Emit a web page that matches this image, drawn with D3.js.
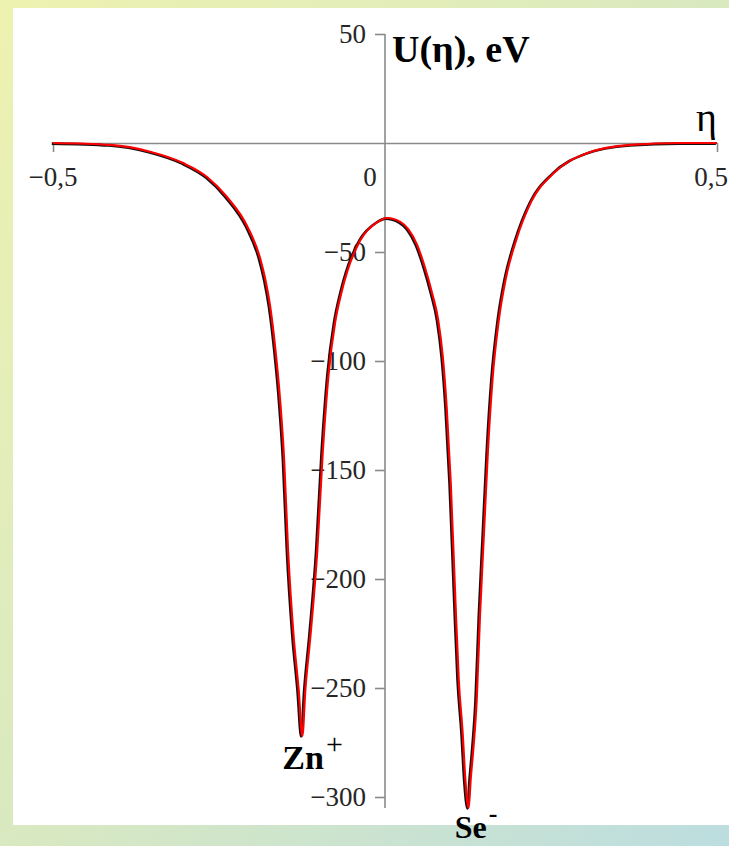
<!DOCTYPE html>
<html>
<head>
<meta charset="utf-8">
<script src="https://cdn.jsdelivr.net/npm/d3@7"></script>
<style>
  html, body { margin: 0; padding: 0; }
  body { width: 729px; height: 846px; overflow: hidden; }
  svg { display: block; }
</style>
</head>
<body>
<svg id="chart" width="729" height="846"></svg>
<script>
// Potential energy profile U(η) along the Zn–Se direction
const eta = [-0.5, -0.414, -0.354, -0.304, -0.268, -0.238, -0.207, -0.188, -0.180, -0.173,
             -0.165, -0.158, -0.152, -0.146, -0.138, -0.130, -0.1245, -0.120, -0.112, -0.102,
             -0.094, -0.085, -0.075, -0.066, -0.057, -0.037, -0.011, 0.003, 0.023, 0.035,
             0.048, 0.060, 0.071, 0.080, 0.087, 0.093, 0.099, 0.106, 0.111, 0.117,
             0.121, 0.126, 0.129, 0.133, 0.138, 0.143, 0.149, 0.155, 0.162, 0.171,
             0.182, 0.197, 0.220, 0.254, 0.305, 0.370, 0.446, 0.5];
const energy = [0, -0.9, -4.0, -9.2, -15.6, -24.8, -38.5, -53.0, -63.0, -75.0,
                -95, -118, -145, -187, -225, -251, -272, -251, -225, -187,
                -143, -106, -82, -69, -59, -44.5, -36.2, -34.4, -36.2, -39.5,
                -46.5, -57, -69, -81, -98, -122, -156, -210, -246, -271,
                -292, -305, -292, -278, -256, -217, -179, -141, -108, -82,
                -62, -45, -27, -13.8, -4.6, -0.9, 0, 0];

const yTicks = [50, -50, -100, -150, -200, -250, -300];
const xTicks = [-0.5, 0, 0.5];
const xTickLabels = ["\u22120,5", "0", "0,5"];
const yTickLabels = ["50", "\u221250", "\u2212100", "\u2212150", "\u2212200", "\u2212250", "\u2212300"];

const ionLabels = [
  { name: "Zn", charge: "+", eta: -0.1245, u: -272 },
  { name: "Se", charge: "-", eta: 0.126, u: -305 }
];

const svg = d3.select("#chart");
const W = 729, H = 846;

// background: diagonal pastel gradient with a white plotting panel
const defs = svg.append("defs");
const grad = defs.append("linearGradient")
  .attr("id", "bg").attr("x1", "0").attr("y1", "0").attr("x2", "1").attr("y2", "1");
grad.append("stop").attr("offset", "0%").attr("stop-color", "#eef2b0");
grad.append("stop").attr("offset", "50%").attr("stop-color", "#d9e9c0");
grad.append("stop").attr("offset", "100%").attr("stop-color", "#bcdde0");
svg.append("rect").attr("width", W).attr("height", H).attr("fill", "url(#bg)");
svg.append("rect").attr("x", 13).attr("y", 8).attr("width", W - 13).attr("height", 817).attr("fill", "#ffffff");

const x = d3.scaleLinear().domain([-0.5, 0.5]).range([53, 717]);
const y = d3.scaleLinear().domain([-300, 50]).range([797, 34]);

const axisColor = "#8a8a8a";
const tickFont = "'Liberation Serif', 'Times New Roman', serif";

// horizontal axis
const xAxis = svg.append("g").attr("transform", `translate(0,${y(0)})`)
  .call(d3.axisBottom(x).tickValues([-0.5, 0.5]).tickSize(9).tickSizeOuter(0).tickFormat(""));
xAxis.selectAll("path, line").attr("stroke", axisColor).attr("stroke-width", 1.6);

// vertical axis
const yAxis = svg.append("g").attr("transform", `translate(${x(0)},0)`)
  .call(d3.axisLeft(y).tickValues(yTicks).tickSize(10).tickSizeOuter(0).tickFormat(""));
yAxis.select("path").attr("d", `M0,${y(50)}V${y(-305)}`);
yAxis.selectAll("path, line").attr("stroke", axisColor).attr("stroke-width", 1.6);

// y tick labels
svg.append("g").selectAll("text").data(yTicks).join("text")
  .attr("x", x(0) - 19)
  .attr("y", d => y(d))
  .attr("dy", "0.34em")
  .attr("text-anchor", "end")
  .attr("font-family", tickFont)
  .attr("font-size", 27)
  .attr("fill", "#262626")
  .text((d, i) => yTickLabels[i]);

// x tick labels (the right one is kept inside the frame)
svg.append("g").selectAll("text").data(xTicks).join("text")
  .attr("x", d => d === 0 ? x(d) - 15 : (d > 0 ? W - 1 : x(d)))
  .attr("y", 186)
  .attr("text-anchor", d => d > 0 ? "end" : "middle")
  .attr("font-family", tickFont)
  .attr("font-size", 27)
  .attr("fill", "#262626")
  .text((d, i) => xTickLabels[i]);

// axis titles
svg.append("text")
  .attr("x", 392).attr("y", 62)
  .attr("font-family", tickFont)
  .attr("font-weight", "bold")
  .attr("font-size", 38)
  .attr("fill", "#000")
  .text("U(η), eV");

svg.append("text")
  .attr("x", 696).attr("y", 131)
  .attr("font-family", tickFont)
  .attr("font-size", 40)
  .attr("fill", "#000")
  .text("η");

// curve: dark underlay with the red trace on top
const pts = eta.map((e, i) => [e, energy[i]]);
const line = d3.line().x(d => x(d[0])).y(d => y(d[1])).curve(d3.curveMonotoneX);

svg.append("path").datum(pts)
  .attr("d", line)
  .attr("transform", "translate(-1.2,0.6)")
  .attr("fill", "none")
  .attr("stroke", "#111")
  .attr("stroke-width", 2.6);

svg.append("path").datum(pts)
  .attr("d", line)
  .attr("fill", "none")
  .attr("stroke", "#ff0000")
  .attr("stroke-width", 2.2);

// ion labels under each well
const ions = svg.append("g");
ionLabels.forEach((ion, i) => {
  const t = ions.append("text")
    .attr("font-family", tickFont)
    .attr("font-weight", "bold")
    .attr("font-size", i === 0 ? 34 : 32)
    .attr("fill", "#000");
  if (i === 0) {
    t.attr("x", x(ion.eta) - 20).attr("y", y(ion.u) + 33);
  } else {
    t.attr("x", x(ion.eta) - 14).attr("y", 838);
  }
  t.append("tspan").text(ion.name);
  t.append("tspan")
    .attr("dy", i === 0 ? -15 : -16)
    .attr("dx", 2)
    .attr("font-size", i === 0 ? 30 : 26)
    .attr("font-weight", i === 0 ? "normal" : "bold")
    .text(ion.charge);
});
</script>
</body>
</html>
